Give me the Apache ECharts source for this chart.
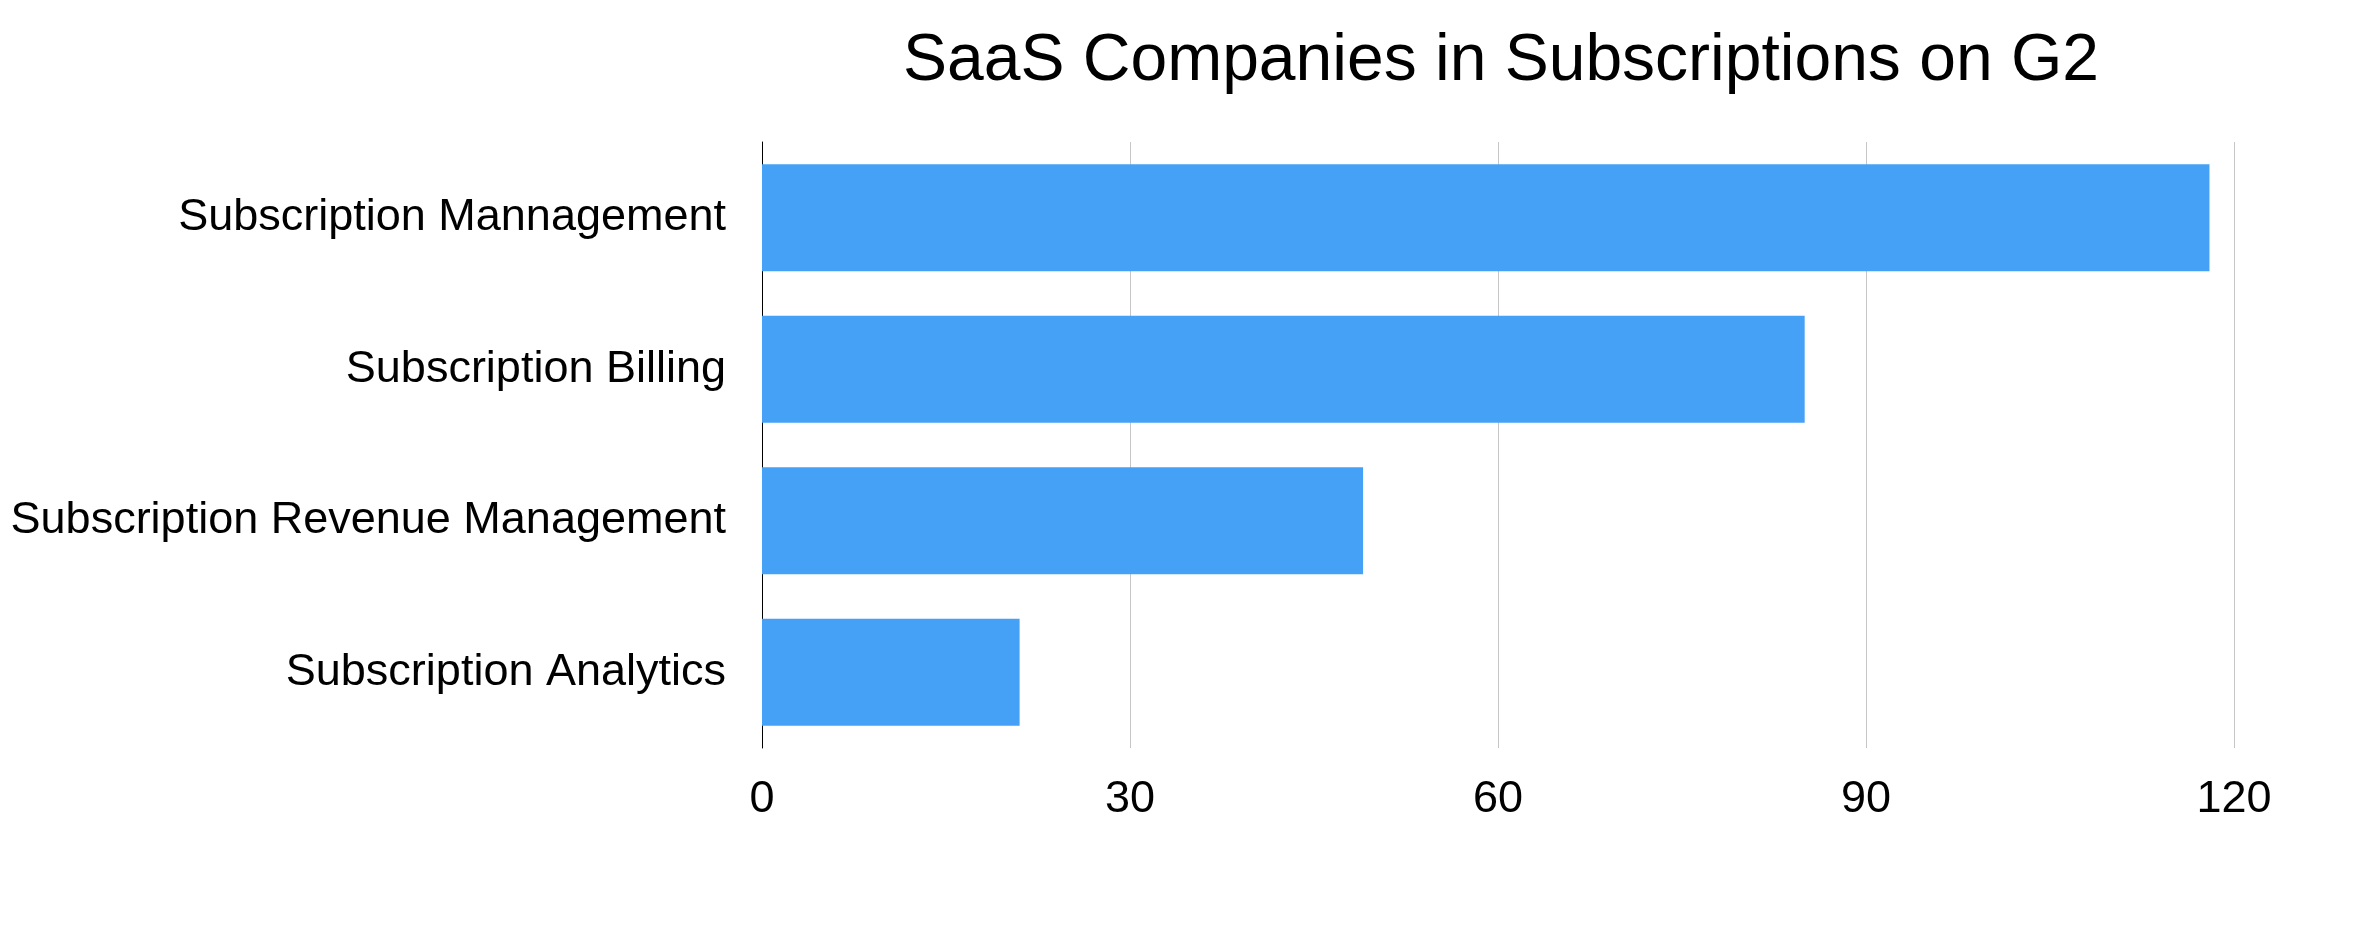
<!DOCTYPE html>
<html>
<head>
<meta charset="utf-8">
<script src="https://cdn.jsdelivr.net/npm/echarts@6/dist/echarts.min.js"></script>
<style>
html,body{margin:0;padding:0;background:#fff;}
#chart{width:2356px;height:932px;}
</style>
</head>
<body>
<div id="chart"></div>
<script>
const titleText = "SaaS Companies in Subscriptions on G2";
const categories = ["Subscription Mannagement", "Subscription Billing", "Subscription Revenue Management", "Subscription Analytics"];
const companyCounts = [118, 85, 49, 21];
const xTicks = [0, 30, 60, 90, 120];

const chart = echarts.init(document.getElementById('chart'), null, {renderer: 'canvas'});
const FONT = "'Liberation Sans', Arial, Helvetica, sans-serif";
chart.setOption({
  animation: false,
  backgroundColor: '#ffffff',
  title: {
    text: titleText,
    left: 1496,
    textAlign: 'center',
    top: 24,
    textStyle: {fontFamily: FONT, fontSize: 66, fontWeight: 'normal', color: '#000'}
  },
  grid: {left: 762, right: 122, top: 142, bottom: 184, containLabel: false},
  xAxis: {
    type: 'value',
    min: xTicks[0],
    max: xTicks[xTicks.length - 1],
    interval: xTicks[1] - xTicks[0],
    axisLine: {show: false},
    axisTick: {show: false},
    splitLine: {show: true, lineStyle: {color: '#c6c6c6', width: 1}},
    axisLabel: {fontFamily: FONT, fontSize: 45, color: '#000', margin: 29}
  },
  yAxis: {
    type: 'category',
    data: categories,
    inverse: true,
    axisLine: {show: true, lineStyle: {color: '#000', width: 1}},
    axisTick: {show: false},
    axisLabel: {fontFamily: FONT, fontSize: 45, color: '#000', margin: 36, padding: [20, 0, 0, 0]}
  },
  series: [{
    type: 'bar',
    data: companyCounts,
    barWidth: 107,
    itemStyle: {color: '#45A1F6'}
  }]
});
</script>
</body>
</html>
